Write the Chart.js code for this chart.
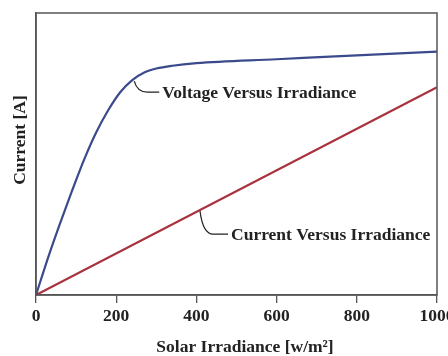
<!DOCTYPE html>
<html>
<head>
<meta charset="utf-8">
<script src="https://cdn.jsdelivr.net/npm/chart.js@4/dist/chart.umd.min.js"></script>
<style>
  html, body { margin: 0; padding: 0; background: #fff; }
</style>
</head>
<body>
<canvas id="irrChart" width="448" height="356"></canvas>
<script>
// voltage curve vs irradiance (saturating) and the linear current
var voltIrr = [0, 30, 60, 90, 120, 150, 180, 210, 240, 270, 300, 340, 400, 600, 800, 1000];
var voltVals = [0, 13.2, 25.4, 37, 48, 57.6, 65.5, 71.9, 76.2, 78.9, 80.3, 81.3, 82.2, 83.6, 85, 86.3];
var currIrr = [0, 1000];
var currVals = [0, 73.7];
var xTicks = [0, 200, 400, 600, 800, 1000];

// callout labels: text, irradiance where the leader touches the curve, curve value there
var noteText = ["Voltage Versus Irradiance", "Current Versus Irradiance"];
var noteX = [245, 409];
var noteY = [76.2, 30.1];

var serif = "'Liberation Serif', 'Times New Roman', serif";
var fontPx = 17.5;

function pts(xs, ys) {
  return xs.map(function(x, i){ return {x: x, y: ys[i]}; });
}

var frame = {
  id: "frame",
  afterDraw: function(chart) {
    var a = chart.chartArea, c = chart.ctx;
    c.save();
    c.strokeStyle = "#555";
    c.lineWidth = 1.5;
    c.strokeRect(a.left, a.top, a.right - a.left, a.bottom - a.top);
    c.fillStyle = "#222";
    c.font = "bold " + fontPx + "px " + serif;
    c.textAlign = "center";
    c.textBaseline = "middle";
    // x axis title
    c.fillText("Solar Irradiance [w/m²]", 245, 347);
    // y axis title, a little above the middle of the axis
    c.translate(20, 140);
    c.rotate(-Math.PI / 2);
    c.fillText("Current [A]", 0, 0);
    c.restore();
  }
};

var callouts = {
  id: "callouts",
  afterDatasetsDraw: function(chart) {
    var c = chart.ctx, xs = chart.scales.x, ys = chart.scales.y;
    // leader: curve end dx, drop dy, dash end dx
    var legs = [[13, 11, 25], [13, 23, 28]];
    c.save();
    c.strokeStyle = "#222";
    c.lineWidth = 1.2;
    c.fillStyle = "#222";
    c.font = "bold " + fontPx + "px " + serif;
    c.textBaseline = "middle";
    for (var i = 0; i < noteText.length; i++) {
      var px = xs.getPixelForValue(noteX[i]);
      var py = ys.getPixelForValue(noteY[i]) + 1;
      var l = legs[i];
      c.beginPath();
      c.moveTo(px, py);
      c.quadraticCurveTo(px + 3, py + l[1], px + l[0], py + l[1]);
      c.lineTo(px + l[2], py + l[1]);
      c.stroke();
      c.fillText(noteText[i], px + l[2] + 3, py + l[1] + 1);
    }
    c.restore();
  }
};

new Chart(document.getElementById("irrChart").getContext("2d"), {
  type: "line",
  data: {
    datasets: [
      {
        label: "Voltage",
        data: pts(voltIrr, voltVals),
        borderColor: "#3b4a8c",
        borderWidth: 2.2,
        pointRadius: 0,
        cubicInterpolationMode: "monotone"
      },
      {
        label: "Current",
        data: pts(currIrr, currVals),
        borderColor: "#a8323e",
        borderWidth: 2.2,
        pointRadius: 0
      }
    ]
  },
  options: {
    responsive: false,
    animation: false,
    devicePixelRatio: 1,
    layout: { padding: { top: 13, right: 11, left: 0, bottom: 0 } },
    plugins: { legend: { display: false }, tooltip: { enabled: false } },
    scales: {
      x: {
        type: "linear",
        min: 0,
        max: 1000,
        afterBuildTicks: function(axis) {
          axis.ticks = xTicks.map(function(v){ return {value: v}; });
        },
        afterFit: function(axis) {
          axis.height = 61;
          axis.paddingRight = 0;
          axis.paddingLeft = 0;
        },
        grid: { drawOnChartArea: false, drawTicks: true, tickLength: 8, color: "#555", lineWidth: 1.3 },
        border: { display: true, color: "#555", width: 1.5 },
        ticks: {
          color: "#222",
          padding: 3,
          maxRotation: 0,
          callback: function(v) { return String(v); },
          font: { family: serif, size: fontPx, weight: "bold" }
        }
      },
      y: {
        min: 0,
        max: 100,
        afterFit: function(axis) { axis.width = 36; },
        grid: { display: false },
        border: { display: true, color: "#555", width: 1.5 },
        ticks: { display: false }
      }
    }
  },
  plugins: [frame, callouts]
});
</script>
</body>
</html>
